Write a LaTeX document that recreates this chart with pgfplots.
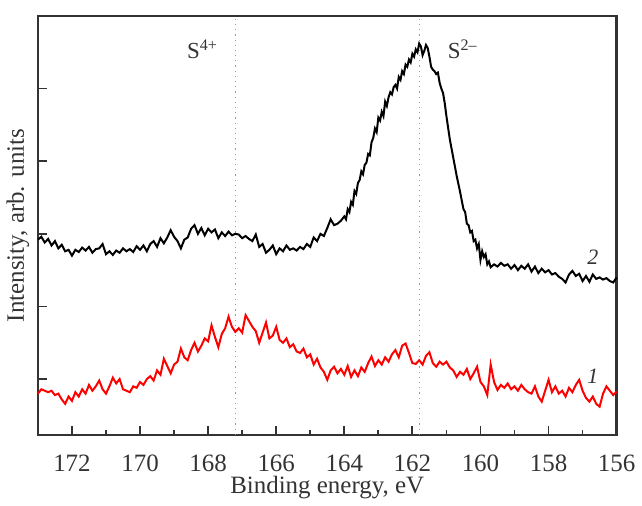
\documentclass[border=0pt]{standalone}
\usepackage{fontspec}
\setmainfont{Liberation Serif}
\usepackage{pgfplots}
\pgfplotsset{compat=1.18}
\definecolor{axgray}{HTML}{333333}
\definecolor{refgray}{HTML}{9A9A9A}
\definecolor{cRed}{HTML}{FF0000}

\begin{document}
\begin{tikzpicture}
\begin{axis}[
  scale only axis, width=290pt, height=210pt,
  x dir=reverse, xmin=156, xmax=173, ymin=0.23, ymax=6.0,
  xtick={156,158,...,172}, minor xtick={157,159,...,173},
  xticklabel={\textrm{\pgfmathprintnumber[assume math mode=true,int detect]{\tick}}},
  ytick={1,2,3,4,5}, yticklabels={},
  tick pos=left, tick align=inside,
  major tick length=4.5pt, minor tick length=2.5pt,
  axis line style={axgray, line width=1.3pt},
  every tick/.style={axgray, line width=0.9pt},
  tick label style={font=\fontsize{12.5}{15}\selectfont, text=axgray},
  xticklabel style={anchor=base, yshift=-18.5pt},
  label style={font=\fontsize{12.5}{15}\selectfont, text=axgray},
  xlabel={Binding energy, eV},
  xlabel style={at={(axis description cs:0.5,0)}, anchor=base, yshift=-29.5pt},
  ylabel={Intensity, arb. units},
  ylabel style={at={(axis description cs:0,0.5)}, anchor=base, yshift=7pt},
  clip=false,
]
% reference lines
\draw[refgray, dotted, line width=0.6pt] (axis cs:167.2,0.23) -- (axis cs:167.2,6.0);
\draw[refgray, dotted, line width=0.6pt] (axis cs:161.8,0.23) -- (axis cs:161.8,6.0);

% curve 2 (black)
\addplot[black, line width=1pt] table {
173.0 2.92
172.9 2.96
172.8 2.88
172.7 2.93
172.6 2.84
172.5 2.90
172.4 2.80
172.3 2.85
172.2 2.76
172.1 2.78
172.0 2.70
171.9 2.78
171.8 2.75
171.7 2.81
171.6 2.77
171.5 2.82
171.4 2.74
171.3 2.79
171.2 2.80
171.1 2.86
171.0 2.72
170.9 2.76
170.8 2.71
170.7 2.77
170.6 2.74
170.5 2.80
170.4 2.76
170.3 2.79
170.2 2.75
170.1 2.83
170.0 2.78
169.9 2.84
169.8 2.76
169.7 2.86
169.6 2.90
169.5 2.82
169.4 2.94
169.3 2.87
169.2 2.95
169.1 3.05
169.0 2.96
168.9 2.90
168.8 2.80
168.7 2.92
168.6 2.95
168.5 3.07
168.4 3.12
168.3 3.00
168.2 3.08
168.1 2.98
168.0 3.07
167.9 3.02
167.8 3.06
167.7 2.94
167.6 3.02
167.5 2.97
167.4 3.03
167.3 2.98
167.2 3.00
167.1 2.99
167.0 2.94
166.9 2.97
166.8 2.93
166.7 2.90
166.6 2.99
166.5 2.82
166.4 2.86
166.3 2.74
166.2 2.78
166.1 2.84
166.0 2.72
165.9 2.80
165.8 2.76
165.7 2.84
165.6 2.78
165.5 2.80
165.4 2.77
165.3 2.82
165.2 2.79
165.1 2.86
165.0 2.82
164.9 2.95
164.8 2.90
164.7 3.00
164.6 2.97
164.5 3.08
164.4 3.20
164.3 3.12
164.2 3.14
164.1 3.18
164.0 3.24
163.95 3.20
163.9 3.34
163.85 3.30
163.8 3.44
163.75 3.40
163.7 3.59
163.65 3.55
163.6 3.70
163.55 3.74
163.5 3.86
163.45 3.82
163.4 3.95
163.35 3.98
163.3 4.10
163.25 4.08
163.2 4.26
163.15 4.32
163.1 4.45
163.05 4.40
163.0 4.60
162.95 4.56
162.9 4.68
162.85 4.62
162.8 4.82
162.75 4.76
162.7 4.88
162.65 4.95
162.6 4.92
162.55 5.02
162.5 5.05
162.45 5.00
162.4 5.16
162.35 5.12
162.3 5.24
162.25 5.20
162.2 5.33
162.15 5.30
162.1 5.40
162.05 5.36
162.0 5.48
161.95 5.44
161.9 5.54
161.85 5.50
161.8 5.62
161.75 5.58
161.7 5.46
161.65 5.52
161.6 5.60
161.55 5.56
161.5 5.44
161.45 5.30
161.4 5.26
161.35 5.24
161.3 5.20
161.25 5.22
161.2 5.08
161.15 5.00
161.1 4.94
161.05 4.80
161.0 4.62
160.9 4.30
160.8 4.05
160.7 3.80
160.6 3.58
160.5 3.34
160.45 3.30
160.4 3.14
160.35 3.12
160.3 3.02
160.25 3.04
160.2 2.90
160.15 2.92
160.1 2.80
160.05 2.86
160.0 2.64
159.95 2.76
159.9 2.68
159.85 2.72
159.8 2.58
159.75 2.62
159.7 2.54
159.6 2.58
159.5 2.55
159.4 2.60
159.3 2.56
159.2 2.58
159.1 2.52
159.0 2.57
158.9 2.50
158.8 2.56
158.7 2.52
158.6 2.58
158.5 2.48
158.4 2.55
158.3 2.46
158.2 2.52
158.1 2.47
158.0 2.50
157.9 2.44
157.8 2.46
157.7 2.41
157.6 2.38
157.5 2.33
157.4 2.44
157.3 2.49
157.2 2.42
157.1 2.45
157.0 2.35
156.9 2.42
156.8 2.34
156.7 2.44
156.6 2.38
156.5 2.40
156.4 2.37
156.3 2.39
156.2 2.35
156.1 2.33
156.0 2.40
};

% curve 1 (red)
\addplot[cRed, line width=1pt] table {
173.0 0.80
172.9 0.86
172.8 0.84
172.7 0.82
172.6 0.84
172.5 0.78
172.4 0.80
172.3 0.72
172.2 0.66
172.1 0.76
172.0 0.70
171.9 0.82
171.8 0.76
171.7 0.86
171.6 0.80
171.5 0.92
171.4 0.84
171.3 0.90
171.2 0.98
171.1 0.86
171.0 0.80
170.9 0.90
170.8 1.02
170.7 0.94
170.6 1.00
170.5 0.86
170.4 0.84
170.3 0.82
170.2 0.90
170.1 0.88
170.0 0.96
169.9 0.92
169.8 1.00
169.7 1.04
169.6 0.98
169.5 1.12
169.4 1.06
169.3 1.28
169.2 1.18
169.1 1.08
169.0 1.20
168.9 1.24
168.8 1.42
168.7 1.30
168.6 1.26
168.5 1.40
168.4 1.50
168.3 1.38
168.2 1.46
168.1 1.56
168.0 1.52
167.9 1.74
167.8 1.58
167.7 1.44
167.6 1.62
167.5 1.70
167.4 1.86
167.3 1.72
167.2 1.65
167.1 1.70
167.0 1.64
166.9 1.88
166.8 1.80
166.7 1.72
166.6 1.66
166.5 1.50
166.4 1.64
166.3 1.78
166.2 1.56
166.1 1.60
166.0 1.72
165.9 1.54
165.8 1.50
165.7 1.56
165.6 1.44
165.5 1.48
165.4 1.38
165.3 1.36
165.2 1.42
165.1 1.30
165.0 1.34
164.9 1.20
164.8 1.28
164.7 1.16
164.6 1.10
164.5 0.99
164.4 1.12
164.3 1.17
164.2 1.08
164.1 1.14
164.0 1.06
163.9 1.18
163.8 1.03
163.7 1.12
163.6 1.04
163.5 1.16
163.4 1.10
163.3 1.22
163.2 1.31
163.1 1.18
163.0 1.26
162.9 1.20
162.8 1.30
162.7 1.24
162.6 1.34
162.5 1.40
162.4 1.30
162.3 1.46
162.2 1.49
162.1 1.36
162.0 1.22
161.9 1.21
161.8 1.26
161.7 1.20
161.6 1.32
161.5 1.37
161.4 1.22
161.3 1.17
161.2 1.24
161.1 1.20
161.0 1.24
160.9 1.16
160.8 1.12
160.7 1.03
160.6 1.10
160.5 1.06
160.4 1.14
160.3 1.00
160.2 1.08
160.1 1.17
160.0 0.96
159.9 0.90
159.8 0.78
159.7 1.20
159.6 0.96
159.5 0.85
159.4 0.92
159.3 0.88
159.2 0.94
159.1 0.86
159.0 0.90
158.9 0.84
158.8 0.92
158.7 0.86
158.6 0.82
158.5 0.80
158.4 0.90
158.3 0.76
158.2 0.69
158.1 0.84
158.0 0.99
157.9 0.82
157.8 0.90
157.7 0.80
157.6 0.84
157.5 0.76
157.4 0.88
157.3 0.82
157.2 0.92
157.1 0.99
157.0 0.84
156.9 0.74
156.8 0.69
156.7 0.76
156.6 0.66
156.5 0.62
156.4 0.80
156.3 0.90
156.2 0.84
156.1 0.78
156.0 0.83
};

% annotations
\node[anchor=base west, inner sep=0pt, text=axgray, font=\fontsize{11.5}{13}\selectfont]
  at (axis cs:168.63,5.41) {S\textsuperscript{4+}};
\node[anchor=base west, inner sep=0pt, text=axgray, font=\fontsize{11.5}{13}\selectfont]
  at (axis cs:160.97,5.41) {S\textsuperscript{2–}};
\node[text=axgray, font=\fontsize{11}{12}\selectfont\itshape]
  at (axis cs:156.7,2.68) {2};
\node[text=axgray, font=\fontsize{11}{12}\selectfont\itshape]
  at (axis cs:156.7,1.04) {1};
\end{axis}
\path (current axis.north) ++(0,7.5pt) node[inner sep=0pt]{};
\end{tikzpicture}
\end{document}
